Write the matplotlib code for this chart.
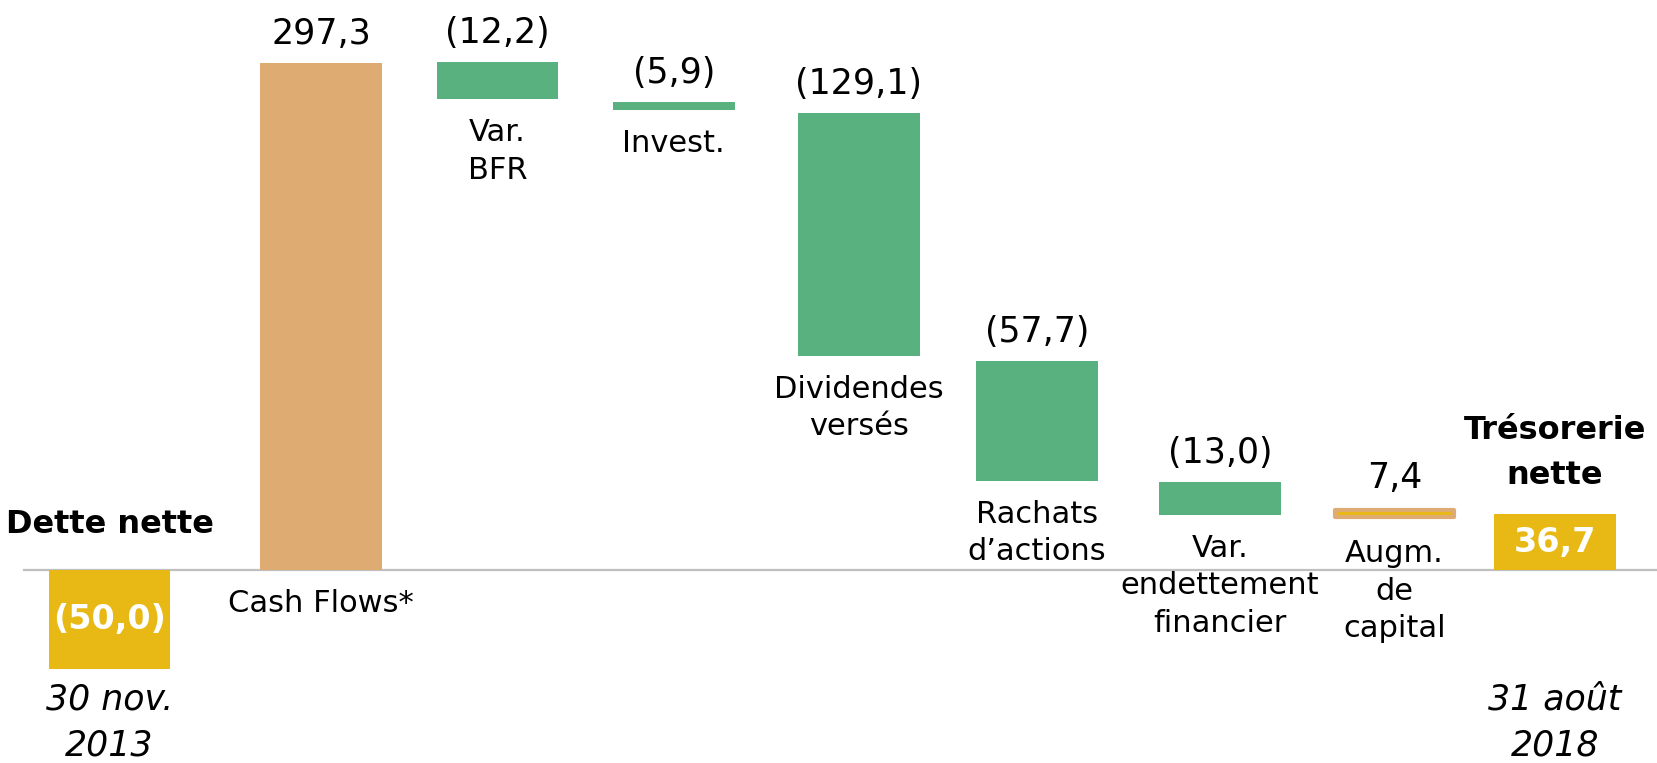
import numpy as np
import matplotlib
matplotlib.use("Agg")
import matplotlib.pyplot as plt

# waterfall: net debt 30 Nov 2013 -> net cash 31 Aug 2018
categories = ['Dette nette', 'Cash Flows*', 'Var.\nBFR', 'Invest.', 'Dividendes\nversés',
              'Rachats\nd’actions', 'Var.\nendettement\nfinancier', 'Augm.\nde\ncapital',
              'Trésorerie\nnette']
values = [-50.0, 297.3, -12.2, -5.9, -129.1, -57.7, -13.0, 7.4, 36.7]
value_labels = ['(50,0)', '297,3', '(12,2)', '(5,9)', '(129,1)', '(57,7)', '(13,0)', '7,4', '36,7']
# bar extents as drawn on the slide (not exactly to scale with the labels)
bar_top = [0.0, 297.3, 297.9, 274.5, 268.0, 122.6, 51.6, 36.9, 32.8]
bar_bottom = [-58.1, 0.0, 276.2, 269.8, 125.5, 52.2, 32.3, 29.3, 0.0]
dates = ['30 nov.\n2013', '31 août\n2018']

ORANGE = '#DEAC72'
GREEN = '#58B17F'
YELLOW = '#E8B914'

plt.rcParams['font.family'] = ['DejaVu Sans']

fig = plt.figure(figsize=(16.58, 7.63), dpi=100)
ax = fig.add_axes([0, 0, 1, 1])
ax.set_xlim(-0.615, 8.70)
ax.set_ylim(-113.2, 334.3)
ax.axis('off')

xs = np.array([0, 1.19, 2.18, 3.17, 4.21, 5.21, 6.24, 7.22, 8.12])
width = 0.685
n = len(values)
totals = [0, n - 1]

heights = np.array(bar_top) - np.array(bar_bottom)
for i in range(n):
    if i in totals:
        ax.bar(xs[i], heights[i], width, bottom=bar_bottom[i], color=YELLOW, zorder=3)
    elif i == 7:
        # thin bar: yellow core with orange rounded outline
        ax.bar(xs[i], heights[i] - 3, width - 0.015, bottom=bar_bottom[i] + 1.5, color=YELLOW,
               edgecolor=ORANGE, linewidth=3.0, joinstyle='round', zorder=3)
    elif values[i] > 0:
        ax.bar(xs[i], heights[i], width, bottom=bar_bottom[i], color=ORANGE, zorder=3)
    else:
        ax.bar(xs[i], heights[i], width, bottom=bar_bottom[i], color=GREEN, zorder=3)

# zero line
ax.axhline(0, xmin=24 / 1658, xmax=1, color='#BFBFBF', lw=1.6, zorder=2)

# value labels above the moving bars, category labels under them
for i in range(1, n - 1):
    ax.annotate(value_labels[i], (xs[i], bar_top[i]), xytext=(0, 13.5),
                textcoords='offset points', ha='center', va='baseline', fontsize=25)
    if i == 1:
        ax.annotate(categories[i], (xs[i], 0), xytext=(0, -14), textcoords='offset points',
                    ha='center', va='top', fontsize=22)
    else:
        ax.annotate(categories[i], (xs[i], bar_bottom[i]), xytext=(0, -13.5),
                    textcoords='offset points', ha='center', va='top', fontsize=22,
                    linespacing=1.38)

# totals
for i in totals:
    ax.text(xs[i], (bar_top[i] + bar_bottom[i]) / 2, value_labels[i], ha='center',
            va='center', color='white', fontsize=24, fontweight='bold', zorder=4)

ax.annotate(categories[0], (xs[0], 0), xytext=(0, 26.5), textcoords='offset points',
            ha='center', va='baseline', fontsize=23, fontweight='bold')
ax.annotate(categories[-1], (xs[-1], bar_top[-1]), xytext=(0, 21.5), textcoords='offset points',
            ha='center', va='baseline', fontsize=23, fontweight='bold', linespacing=1.6)

date_y = min(bar_bottom)
for i, d in zip(totals, dates):
    ax.annotate(d, (xs[i], date_y), xytext=(0, -9.5), textcoords='offset points',
                ha='center', va='top', fontsize=25, fontstyle='italic', linespacing=1.45)

fig.savefig('out.png', dpi=100)
